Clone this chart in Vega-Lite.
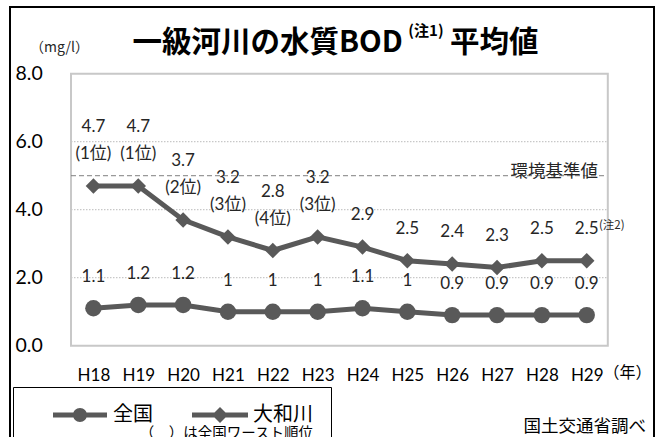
{
  "$schema": "https://vega.github.io/schema/vega-lite/v6.json",
  "width": 644,
  "height": 433,
  "autosize": {"type": "none"},
  "padding": {"left": 10, "top": 7, "right": 8, "bottom": -3},
  "background": "white",
  "config": {
    "view": {"stroke": "black", "strokeWidth": 2},
    "font": "Lato, 'Noto Sans CJK JP', sans-serif"
  },
  "datasets": {
    "bod": [
      {"year": 18, "series": "大和川", "value": 4.7, "rank": "(1位)"},
      {"year": 19, "series": "大和川", "value": 4.7, "rank": "(1位)"},
      {"year": 20, "series": "大和川", "value": 3.7, "rank": "(2位)"},
      {"year": 21, "series": "大和川", "value": 3.2, "rank": "(3位)"},
      {"year": 22, "series": "大和川", "value": 2.8, "rank": "(4位)"},
      {"year": 23, "series": "大和川", "value": 3.2, "rank": "(3位)"},
      {"year": 24, "series": "大和川", "value": 2.9, "rank": null},
      {"year": 25, "series": "大和川", "value": 2.5, "rank": null},
      {"year": 26, "series": "大和川", "value": 2.4, "rank": null},
      {"year": 27, "series": "大和川", "value": 2.3, "rank": null},
      {"year": 28, "series": "大和川", "value": 2.5, "rank": null},
      {"year": 29, "series": "大和川", "value": 2.5, "rank": null},
      {"year": 18, "series": "全国", "value": 1.1, "rank": null},
      {"year": 19, "series": "全国", "value": 1.2, "rank": null},
      {"year": 20, "series": "全国", "value": 1.2, "rank": null},
      {"year": 21, "series": "全国", "value": 1, "rank": null},
      {"year": 22, "series": "全国", "value": 1, "rank": null},
      {"year": 23, "series": "全国", "value": 1, "rank": null},
      {"year": 24, "series": "全国", "value": 1.1, "rank": null},
      {"year": 25, "series": "全国", "value": 1, "rank": null},
      {"year": 26, "series": "全国", "value": 0.9, "rank": null},
      {"year": 27, "series": "全国", "value": 0.9, "rank": null},
      {"year": 28, "series": "全国", "value": 0.9, "rank": null},
      {"year": 29, "series": "全国", "value": 0.9, "rank": null}
    ],
    "grid": [{"g": 2}, {"g": 4}, {"g": 6}]
  },
  "data": {"name": "bod"},
  "layer": [
    {
      "data": {"values": [{}]},
      "mark": {"type": "rect", "fill": "white", "stroke": "#c8c8c8", "strokeWidth": 2},
      "encoding": {
        "x": {"datum": 17.5},
        "x2": {"datum": 29.47},
        "y": {"datum": 0},
        "y2": {"datum": 8}
      }
    },
    {
      "data": {"name": "grid"},
      "mark": {"type": "rule", "color": "#c8c8c8", "strokeWidth": 1.3, "strokeDash": [1.5, 1.5]},
      "encoding": {
        "y": {"field": "g", "type": "quantitative"},
        "x": {"datum": 17.5},
        "x2": {"datum": 29.47}
      }
    },
    {
      "data": {"values": [{}]},
      "mark": {"type": "rule", "color": "#7f7f7f", "strokeWidth": 1, "strokeDash": [5, 3]},
      "encoding": {
        "y": {"datum": 5},
        "x": {"datum": 17.5},
        "x2": {"datum": 29.4}
      }
    },
    {
      "data": {"values": [{}]},
      "mark": {"type": "text", "text": "環境基準値", "align": "right", "baseline": "middle", "dy": -3.5, "font": "Noto Sans CJK JP", "fontSize": 17.5, "color": "#262626"},
      "encoding": {
        "x": {"datum": 29.25},
        "y": {"datum": 5}
      }
    },
    {
      "mark": {"type": "line", "color": "#595959", "strokeWidth": 5},
      "encoding": {
        "x": {
          "field": "year",
          "type": "quantitative",
          "scale": {"domain": [16.14, 30.5], "nice": false, "zero": false},
          "axis": {
            "values": [18, 19, 20, 21, 22, 23, 24, 25, 26, 27, 28, 29],
            "labelExpr": "'H' + datum.value",
            "offset": -65,
            "ticks": false,
            "tickSize": 0,
            "domain": false,
            "grid": false,
            "labelPadding": 0,
            "labelBaseline": "middle",
            "labelFont": "Lato",
            "labelFontSize": 17,
            "labelColor": "black",
            "labelFlush": false,
            "labelOverlap": false,
            "title": "（年）",
            "titleX": 617,
            "titleY": -3,
            "titleAlign": "center",
            "titleBaseline": "middle",
            "titleAnchor": null,
            "titleFont": "Noto Sans CJK JP",
            "titleFontSize": 16,
            "titleFontWeight": "normal",
            "titleColor": "black"
          }
        },
        "y": {
          "field": "value",
          "type": "quantitative",
          "scale": {"domain": [-2.773, 9.962], "nice": false, "zero": false},
          "axis": {
            "values": [0, 2, 4, 6, 8],
            "format": ".1f",
            "ticks": false,
            "tickSize": 0,
            "domain": false,
            "grid": false,
            "labelAlign": "left",
            "labelBaseline": "middle",
            "labelPadding": -5,
            "labelFont": "Lato",
            "labelFontSize": 19.5,
            "labelColor": "black",
            "labelFlush": false,
            "labelOverlap": false,
            "title": "（mg/l）",
            "titleAngle": 0,
            "titleX": 49,
            "titleY": 40,
            "titleAlign": "center",
            "titleBaseline": "middle",
            "titleAnchor": null,
            "titleFont": "Noto Sans CJK JP",
            "titleFontSize": 14,
            "titleFontWeight": "normal",
            "titleColor": "#262626"
          }
        },
        "detail": {"field": "series"}
      }
    },
    {
      "transform": [{"filter": "datum.series == '全国'"}],
      "mark": {"type": "point", "shape": "circle", "filled": true, "size": 270, "color": "#595959", "opacity": 1},
      "encoding": {
        "x": {"field": "year", "type": "quantitative"},
        "y": {"field": "value", "type": "quantitative"}
      }
    },
    {
      "transform": [{"filter": "datum.series == '大和川'"}],
      "mark": {"type": "point", "shape": "diamond", "filled": true, "size": 240, "color": "#595959", "opacity": 1},
      "encoding": {
        "x": {"field": "year", "type": "quantitative"},
        "y": {"field": "value", "type": "quantitative"}
      }
    },
    {
      "transform": [{"filter": "datum.series == '全国'"}],
      "mark": {"type": "text", "align": "center", "baseline": "middle", "dy": -31, "font": "Lato", "fontSize": 17, "color": "#262626"},
      "encoding": {
        "x": {"field": "year", "type": "quantitative"},
        "y": {"field": "value", "type": "quantitative"},
        "text": {"field": "value", "type": "nominal"}
      }
    },
    {
      "transform": [{"filter": "datum.series == '大和川' && datum.rank == null"}],
      "mark": {"type": "text", "align": "center", "baseline": "middle", "dy": -32, "font": "Lato", "fontSize": 17, "color": "#262626"},
      "encoding": {
        "x": {"field": "year", "type": "quantitative"},
        "y": {"field": "value", "type": "quantitative"},
        "text": {"field": "value", "type": "nominal"}
      }
    },
    {
      "transform": [{"filter": "datum.series == '大和川' && datum.rank != null"}],
      "mark": {"type": "text", "align": "center", "baseline": "middle", "dy": -59, "font": "Lato", "fontSize": 17, "color": "#262626"},
      "encoding": {
        "x": {"field": "year", "type": "quantitative"},
        "y": {"field": "value", "type": "quantitative"},
        "text": {"field": "value", "type": "nominal"}
      }
    },
    {
      "transform": [{"filter": "datum.series == '大和川' && datum.rank != null"}],
      "mark": {"type": "text", "align": "center", "baseline": "middle", "dy": -32, "font": "Lato, 'Noto Sans CJK JP'", "fontSize": 17, "color": "#262626"},
      "encoding": {
        "x": {"field": "year", "type": "quantitative"},
        "y": {"field": "value", "type": "quantitative"},
        "text": {"field": "rank", "type": "nominal"}
      }
    },
    {
      "data": {"values": [{}]},
      "mark": {"type": "text", "text": "(注2)", "align": "center", "baseline": "middle", "dx": 25, "dy": -35, "font": "Noto Sans CJK JP", "fontSize": 11.5, "color": "#262626"},
      "encoding": {
        "x": {"datum": 29},
        "y": {"datum": 2.5}
      }
    },
    {
      "data": {"values": [{}]},
      "mark": {"type": "text", "text": "一級河川の水質BOD", "align": "right", "baseline": "middle", "font": "Noto Sans CJK JP", "fontSize": 29.5, "fontWeight": "bold", "color": "black"},
      "encoding": {
        "x": {"datum": 24.9},
        "y": {"datum": 8.9}
      }
    },
    {
      "data": {"values": [{}]},
      "mark": {"type": "text", "text": "(注1)", "align": "center", "baseline": "middle", "font": "Noto Sans CJK JP", "fontSize": 15, "fontWeight": "bold", "color": "black"},
      "encoding": {
        "x": {"datum": 25.415},
        "y": {"datum": 9.256}
      }
    },
    {
      "data": {"values": [{}]},
      "mark": {"type": "text", "text": "平均値", "align": "left", "baseline": "middle", "font": "Noto Sans CJK JP", "fontSize": 29.5, "fontWeight": "bold", "color": "black"},
      "encoding": {
        "x": {"datum": 25.95},
        "y": {"datum": 8.9}
      }
    },
    {
      "data": {"values": [{}]},
      "mark": {"type": "text", "text": "国土交通省調べ", "align": "right", "baseline": "middle", "font": "Noto Sans CJK JP", "fontSize": 17.5, "color": "black"},
      "encoding": {
        "x": {"datum": 30.32},
        "y": {"datum": -2.39}
      }
    },
    {
      "transform": [{"filter": "false"}],
      "mark": {"type": "point", "filled": true, "size": 400, "color": "#595959"},
      "encoding": {
        "x": {"field": "year", "type": "quantitative"},
        "y": {"field": "value", "type": "quantitative"},
        "shape": {
          "field": "series",
          "type": "nominal",
          "scale": {
            "domain": ["全国", "大和川"],
            "range": [
              "M-2.7,-0.25L-2.7,0.25L2.7,0.25L2.7,-0.25ZM-0.7,0A0.7,0.7,0,1,0,0.7,0A0.7,0.7,0,1,0,-0.7,0Z",
              "M-2.8,-0.25L-2.8,0.25L2.8,0.25L2.8,-0.25ZM-0.8,0L0,0.8L0.8,0L0,-0.8Z"
            ]
          },
          "legend": {
            "orient": "none",
            "legendX": 3,
            "legendY": 380,
            "direction": "horizontal",
            "padding": 18,
            "strokeColor": "black",
            "fillColor": "white",
            "symbolSize": 400,
            "symbolOffset": 39,
            "labelOffset": 23,
            "columnPadding": 18,
            "symbolFillColor": "#595959",
            "symbolStrokeColor": "#595959",
            "symbolStrokeWidth": 0,
            "symbolOpacity": 1,
            "labelFont": "Noto Sans CJK JP",
            "labelFontSize": 20,
            "labelColor": "black",
            "labelExpr": "datum.label == '大和川' ? datum.label + '　' : datum.label",
            "title": "（　）は全国ワースト順位",
            "titleOrient": "bottom",
            "titleAnchor": "end",
            "titleFont": "Noto Sans CJK JP",
            "titleFontSize": 14.5,
            "titleFontWeight": "normal",
            "titleColor": "black",
            "titlePadding": 2
          }
        }
      }
    }
  ]
}
